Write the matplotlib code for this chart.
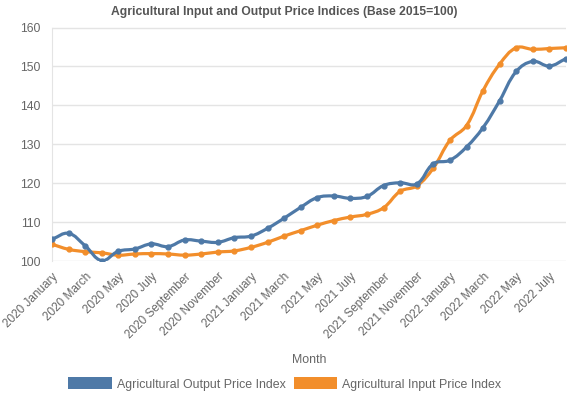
import numpy as np
import matplotlib
matplotlib.use("Agg")
import matplotlib.pyplot as plt
from matplotlib.path import Path
from matplotlib.patches import PathPatch, Patch

plt.rcParams["font.family"] = ["Liberation Sans", "DejaVu Sans"]

years = ["2020"] * 12 + ["2021"] * 12 + ["2022"] * 8
month_names = ["January", "February", "March", "April", "May", "June",
               "July", "August", "September", "October", "November", "December"]
months = [f"{y} {month_names[i % 12]}" for i, y in enumerate(years)]

output_index = [105.6, 107.1, 103.9, 100.1, 102.5, 103.1, 104.4, 103.7, 105.4, 105.1, 104.8, 106.0,
                106.4, 108.4, 111.0, 113.8, 116.3, 116.7, 116.1, 116.6, 119.4, 120.1, 119.8, 125.0,
                125.9, 129.3, 134.3, 141.2, 148.7, 151.3, 150.1, 152.0]
input_index = [104.3, 103.0, 102.4, 102.1, 101.5, 101.8, 101.9, 101.8, 101.5, 101.8, 102.3, 102.6,
               103.5, 104.8, 106.4, 107.8, 109.2, 110.4, 111.3, 112.0, 113.7, 117.9, 119.3, 123.9,
               131.0, 134.8, 143.8, 150.6, 154.8, 154.4, 154.6, 154.8]

BLUE = "#4e79a7"
ORANGE = "#f28e2b"
GREY = "#666666"


def smooth_path(x, y, tension=0.4, sx=16.6, sy=3.89):
    # bezier spline through the points (like chart.js line tension)
    x = np.asarray(x, float)
    y = np.asarray(y, float)
    n = len(x)
    cp_prev = []
    cp_next = []
    for i in range(n):
        p0 = (x[max(i - 1, 0)], y[max(i - 1, 0)])
        p1 = (x[i], y[i])
        p2 = (x[min(i + 1, n - 1)], y[min(i + 1, n - 1)])
        d01 = np.hypot((p1[0] - p0[0]) * sx, (p1[1] - p0[1]) * sy)
        d12 = np.hypot((p2[0] - p1[0]) * sx, (p2[1] - p1[1]) * sy)
        tot = d01 + d12
        s01 = d01 / tot if tot else 0
        s12 = d12 / tot if tot else 0
        fa = tension * s01
        fb = tension * s12
        cp_prev.append((p1[0] - fa * (p2[0] - p0[0]), p1[1] - fa * (p2[1] - p0[1])))
        cp_next.append((p1[0] + fb * (p2[0] - p0[0]), p1[1] + fb * (p2[1] - p0[1])))
    verts = [(x[0], y[0])]
    codes = [Path.MOVETO]
    for i in range(1, n):
        verts += [cp_next[i - 1], cp_prev[i], (x[i], y[i])]
        codes += [Path.CURVE4] * 3
    return Path(verts, codes)


fig = plt.figure(figsize=(5.69, 3.95), dpi=100)
ax = fig.add_axes([52 / 569, 1 - 261 / 395, (566 - 52) / 569, (261 - 27.5) / 395])

xs = np.arange(len(months))
# first series drawn on top
for vals, col, z in [(output_index, BLUE, 5), (input_index, ORANGE, 3)]:
    ax.add_patch(PathPatch(smooth_path(xs, vals), facecolor="none", edgecolor=col,
                           lw=2.3, capstyle="round", joinstyle="round", zorder=z))
    ax.plot(xs, vals, "o", color=col, markersize=3.5, zorder=z + 0.5)

ax.set_xlim(0, len(months) - 1)
ax.set_ylim(100, 160)
ax.set_yticks(range(100, 161, 10))
ax.set_xticks(xs[::2])
ax.set_xticklabels(months[::2], rotation=45, ha="right", rotation_mode="anchor")
ax.tick_params(axis="y", colors=GREY, labelsize=8.7, length=0, pad=8)
ax.tick_params(axis="x", colors=GREY, labelsize=8.5, length=0, pad=7)
ax.grid(axis="y", color="#e4e4e4", lw=1)
ax.set_axisbelow(True)
for side in ["top", "right", "bottom"]:
    ax.spines[side].set_visible(False)
ax.spines["left"].set_color("#e4e4e4")

ax.set_xlabel("Month", color=GREY, fontsize=8.9)
ax.xaxis.set_label_coords(0.5, -(354 - 261) / 233.5)
fig.text(0.5, 1 - 12 / 395, "Agricultural Input and Output Price Indices (Base 2015=100)",
         ha="center", va="center", fontsize=8.7, fontweight="bold", color="#555555")

handles = [Patch(facecolor=BLUE, label="Agricultural Output Price Index"),
           Patch(facecolor=ORANGE, label="Agricultural Input Price Index")]
fig.legend(handles=handles, loc="center", bbox_to_anchor=(285 / 569, 1 - 384 / 395), ncol=2,
           frameon=False, fontsize=8.9, labelcolor=GREY, handlelength=3.5, handleheight=1.1,
           handletextpad=0.4, columnspacing=0.7)

fig.savefig("out.png", dpi=100)
